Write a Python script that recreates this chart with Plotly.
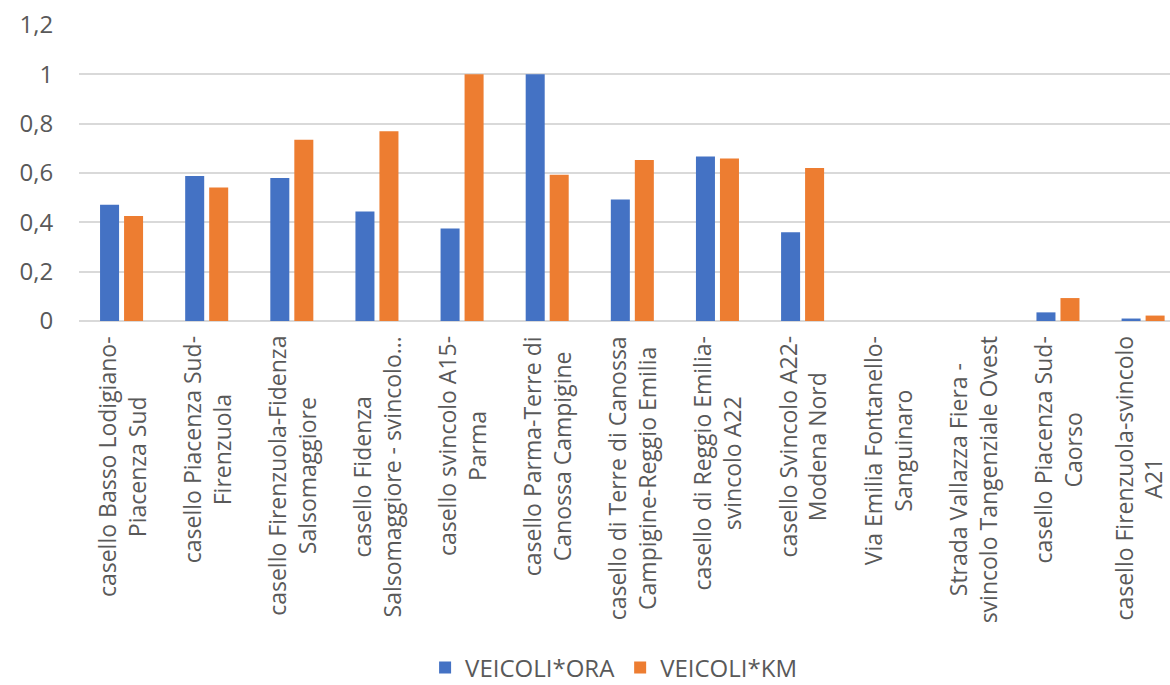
import plotly.graph_objects as go

tick_labels = [
    "casello Basso Lodigiano-<br>Piacenza Sud",
    "casello Piacenza Sud-<br>Firenzuola",
    "casello Firenzuola-Fidenza<br>Salsomaggiore",
    "casello Fidenza<br>Salsomaggiore - svincolo…",
    "casello svincolo A15-<br>Parma",
    "casello Parma-Terre di<br>Canossa Campigine",
    "casello di Terre di Canossa<br>Campigine-Reggio Emilia",
    "casello di Reggio Emilia-<br>svincolo A22",
    "casello Svincolo A22-<br>Modena Nord",
    "Via Emilia Fontanello-<br>Sanguinaro",
    "Strada Vallazza Fiera -<br>svincolo Tangenziale Ovest",
    "casello Piacenza Sud-<br>Caorso",
    "casello Firenzuola-svincolo<br>A21",
]
categories = list(range(len(tick_labels)))

veicoli_ora = [0.471, 0.588, 0.580, 0.444, 0.375, 1.0, 0.493, 0.667, 0.360, 0.0, 0.0, 0.035, 0.010]
veicoli_km = [0.426, 0.541, 0.735, 0.769, 1.0, 0.593, 0.653, 0.659, 0.620, 0.0, 0.0, 0.093, 0.022]

y_ticks = [0, 0.2, 0.4, 0.6, 0.8, 1.0, 1.2]

FONT = "Open Sans"
TXT = "#595959"
FS = 24
FS_LAB = 23

fig = go.Figure()
fig.add_trace(go.Bar(x=categories, y=veicoli_ora, name="VEICOLI*ORA",
                     marker=dict(color="#4472C4", line=dict(width=0))))
fig.add_trace(go.Bar(x=categories, y=veicoli_km, name="VEICOLI*KM",
                     marker=dict(color="#ED7D31", line=dict(width=0))))

last = categories[-1]
for c, lab in zip(categories, tick_labels):
    fig.add_annotation(x=c, y=0, xref="x", yref="paper", text=lab,
                       textangle=-90, showarrow=False, xanchor="center",
                       yanchor="top", align="center", yshift=-15,
                       xshift=(-5 if c == last else 0),
                       borderpad=0, borderwidth=0,
                       font=dict(family=FONT, size=FS_LAB, color=TXT))

fig.update_layout(
    width=1170, height=685,
    margin=dict(l=79, r=0, t=25, b=364, autoexpand=False),
    paper_bgcolor="white", plot_bgcolor="white",
    separators=",.",
    barmode="group", bargap=0.436, bargroupgap=0.208,
    font=dict(family=FONT, size=FS, color=TXT),
    showlegend=True,
    legend=dict(orientation="h", x=0.49, xanchor="center", y=-1.172,
                yanchor="middle", font=dict(family=FONT, size=FS, color=TXT),
                itemwidth=30, tracegroupgap=0),
)
fig.update_xaxes(range=[-0.5, 12.316], showticklabels=False, showgrid=False,
                 zeroline=False, showline=False, fixedrange=True)
fig.update_yaxes(range=[0, 1.2], tickvals=y_ticks, showgrid=True,
                 gridcolor="#D9D9D9", gridwidth=1.5, zeroline=True,
                 zerolinecolor="#D9D9D9", zerolinewidth=1.5, showline=False,
                 ticks="outside", ticklen=20, tickcolor="rgba(0,0,0,0)",
                 tickfont=dict(family=FONT, size=FS, color=TXT))

fig.write_html("out.html")
